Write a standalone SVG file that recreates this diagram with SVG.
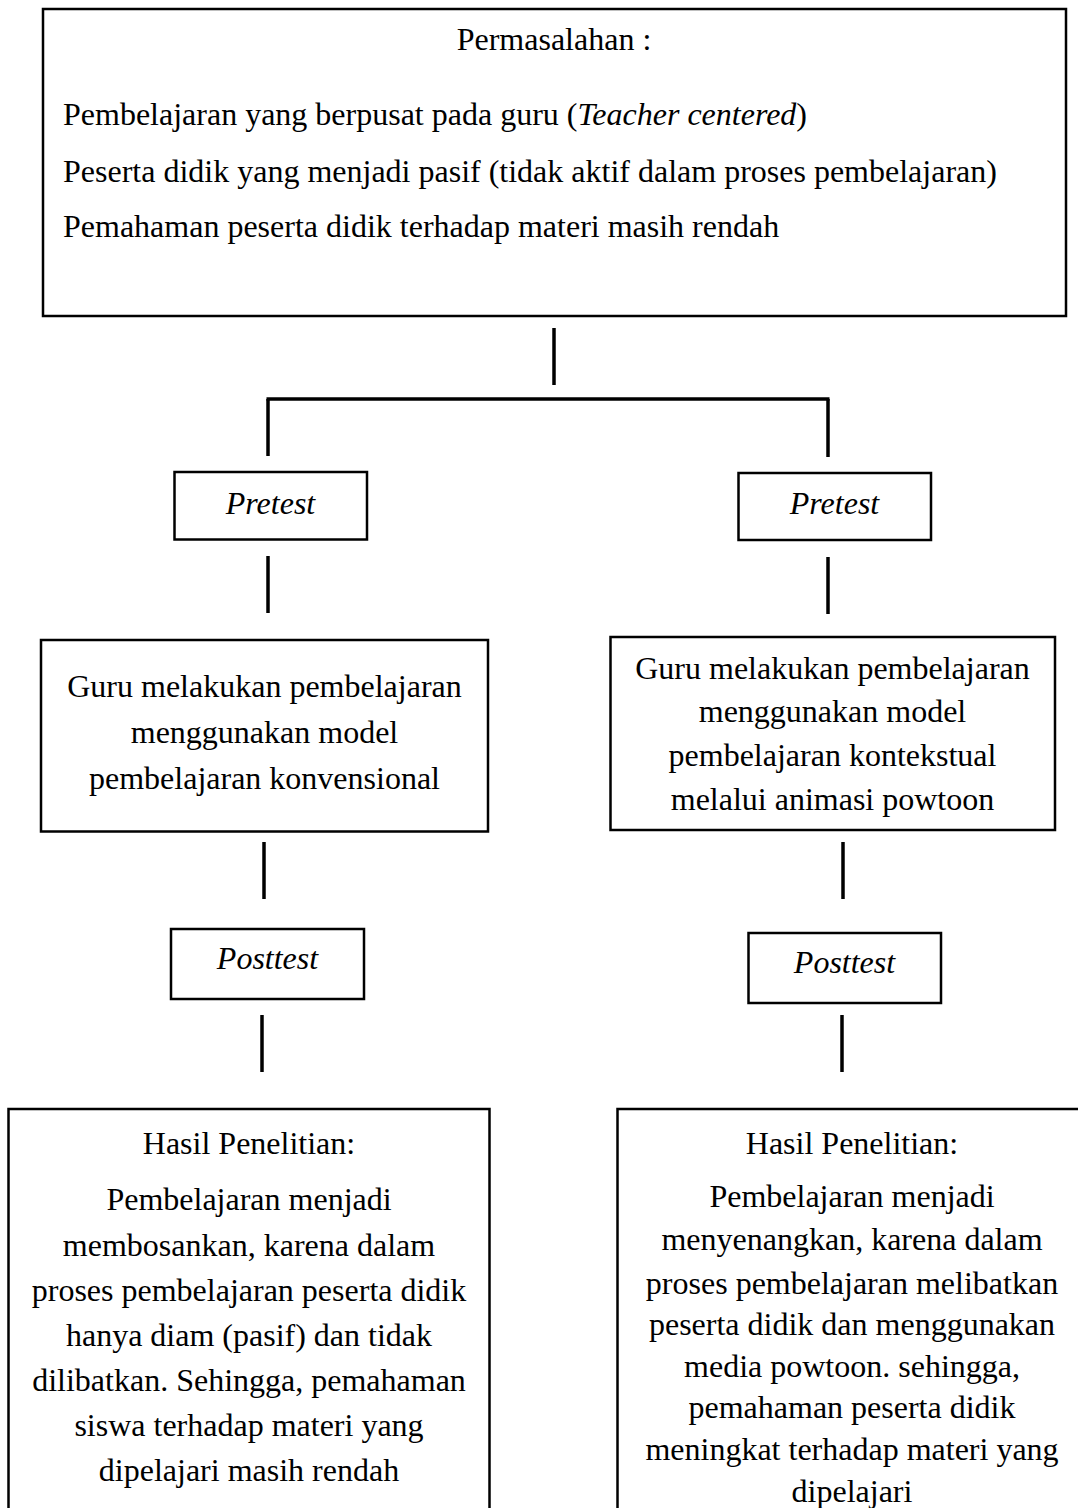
<svg xmlns="http://www.w3.org/2000/svg" width="1078" height="1508" viewBox="0 0 1078 1508">
<style>
.box{fill:#fff;stroke:#000;stroke-width:2.5}
.ln{stroke:#000;stroke-width:3.5;fill:none}
text{font-family:"Liberation Serif","Times New Roman",serif;font-size:32px;fill:#000}
.c{text-anchor:middle}
.i{font-style:italic}
</style>
<rect width="1078" height="1508" fill="#fff"/>
<g id="connectors">
<line class="ln" x1="554" y1="328" x2="554" y2="385"/>
<line class="ln" x1="266.5" y1="399" x2="829.5" y2="399" stroke-width="4.5"/>
<line class="ln" x1="268" y1="399" x2="268" y2="456"/>
<line class="ln" x1="828" y1="399" x2="828" y2="457"/>
<line class="ln" x1="268" y1="556" x2="268" y2="613"/>
<line class="ln" x1="828" y1="557" x2="828" y2="614"/>
<line class="ln" x1="264" y1="842" x2="264" y2="899"/>
<line class="ln" x1="843" y1="842" x2="843" y2="899"/>
<line class="ln" x1="262" y1="1015" x2="262" y2="1072"/>
<line class="ln" x1="842" y1="1015" x2="842" y2="1072"/>
</g>
<g id="permasalahan">
<rect class="box" x="43" y="9" width="1023" height="307"/>
<text class="c" x="554" y="50">Permasalahan :</text>
<text x="63" y="125">Pembelajaran yang berpusat pada guru (<tspan class="i">Teacher centered</tspan>)</text>
<text x="63" y="182">Peserta didik yang menjadi pasif (tidak aktif dalam proses pembelajaran)</text>
<text x="63" y="237">Pemahaman peserta didik terhadap materi masih rendah</text>
</g>
<g id="pretest-left">
<rect class="box" x="174.5" y="472" width="192.5" height="67.5"/>
<text class="c i" x="270.5" y="514">Pretest</text>
</g>
<g id="pretest-right">
<rect class="box" x="738.5" y="473" width="192.5" height="67"/>
<text class="c i" x="834.5" y="514">Pretest</text>
</g>
<g id="guru-left">
<rect class="box" x="41" y="640" width="447" height="191.5"/>
<text class="c" x="264.5" y="697">Guru melakukan pembelajaran</text>
<text class="c" x="264.5" y="743">menggunakan model</text>
<text class="c" x="264.5" y="789">pembelajaran konvensional</text>
</g>
<g id="guru-right">
<rect class="box" x="610.5" y="637" width="444.5" height="193"/>
<text class="c" x="832.5" y="679">Guru melakukan pembelajaran</text>
<text class="c" x="832.5" y="722">menggunakan model</text>
<text class="c" x="832.5" y="766">pembelajaran kontekstual</text>
<text class="c" x="832.5" y="810">melalui animasi powtoon</text>
</g>
<g id="posttest-left">
<rect class="box" x="171" y="929" width="193" height="70"/>
<text class="c i" x="267.5" y="969">Posttest</text>
</g>
<g id="posttest-right">
<rect class="box" x="748.5" y="933" width="192.5" height="70"/>
<text class="c i" x="844.5" y="973">Posttest</text>
</g>
<g id="hasil-left">
<rect class="box" x="8.5" y="1109" width="481" height="500"/>
<text class="c" x="249" y="1154">Hasil Penelitian:</text>
<text class="c" x="249" y="1210">Pembelajaran menjadi</text>
<text class="c" x="249" y="1256">membosankan, karena dalam</text>
<text class="c" x="249" y="1301">proses pembelajaran peserta didik</text>
<text class="c" x="249" y="1346">hanya diam (pasif) dan tidak</text>
<text class="c" x="249" y="1391">dilibatkan. Sehingga, pemahaman</text>
<text class="c" x="249" y="1436">siswa terhadap materi yang</text>
<text class="c" x="249" y="1481">dipelajari masih rendah</text>
</g>
<g id="hasil-right">
<rect class="box" x="617.5" y="1109" width="480" height="500"/>
<text class="c" x="852" y="1154">Hasil Penelitian:</text>
<text class="c" x="852" y="1207">Pembelajaran menjadi</text>
<text class="c" x="852" y="1250">menyenangkan, karena dalam</text>
<text class="c" x="852" y="1294">proses pembelajaran melibatkan</text>
<text class="c" x="852" y="1335">peserta didik dan menggunakan</text>
<text class="c" x="852" y="1377">media powtoon. sehingga,</text>
<text class="c" x="852" y="1418">pemahaman peserta didik</text>
<text class="c" x="852" y="1460">meningkat terhadap materi yang</text>
<text class="c" x="852" y="1502">dipelajari</text>
</g>
</svg>
